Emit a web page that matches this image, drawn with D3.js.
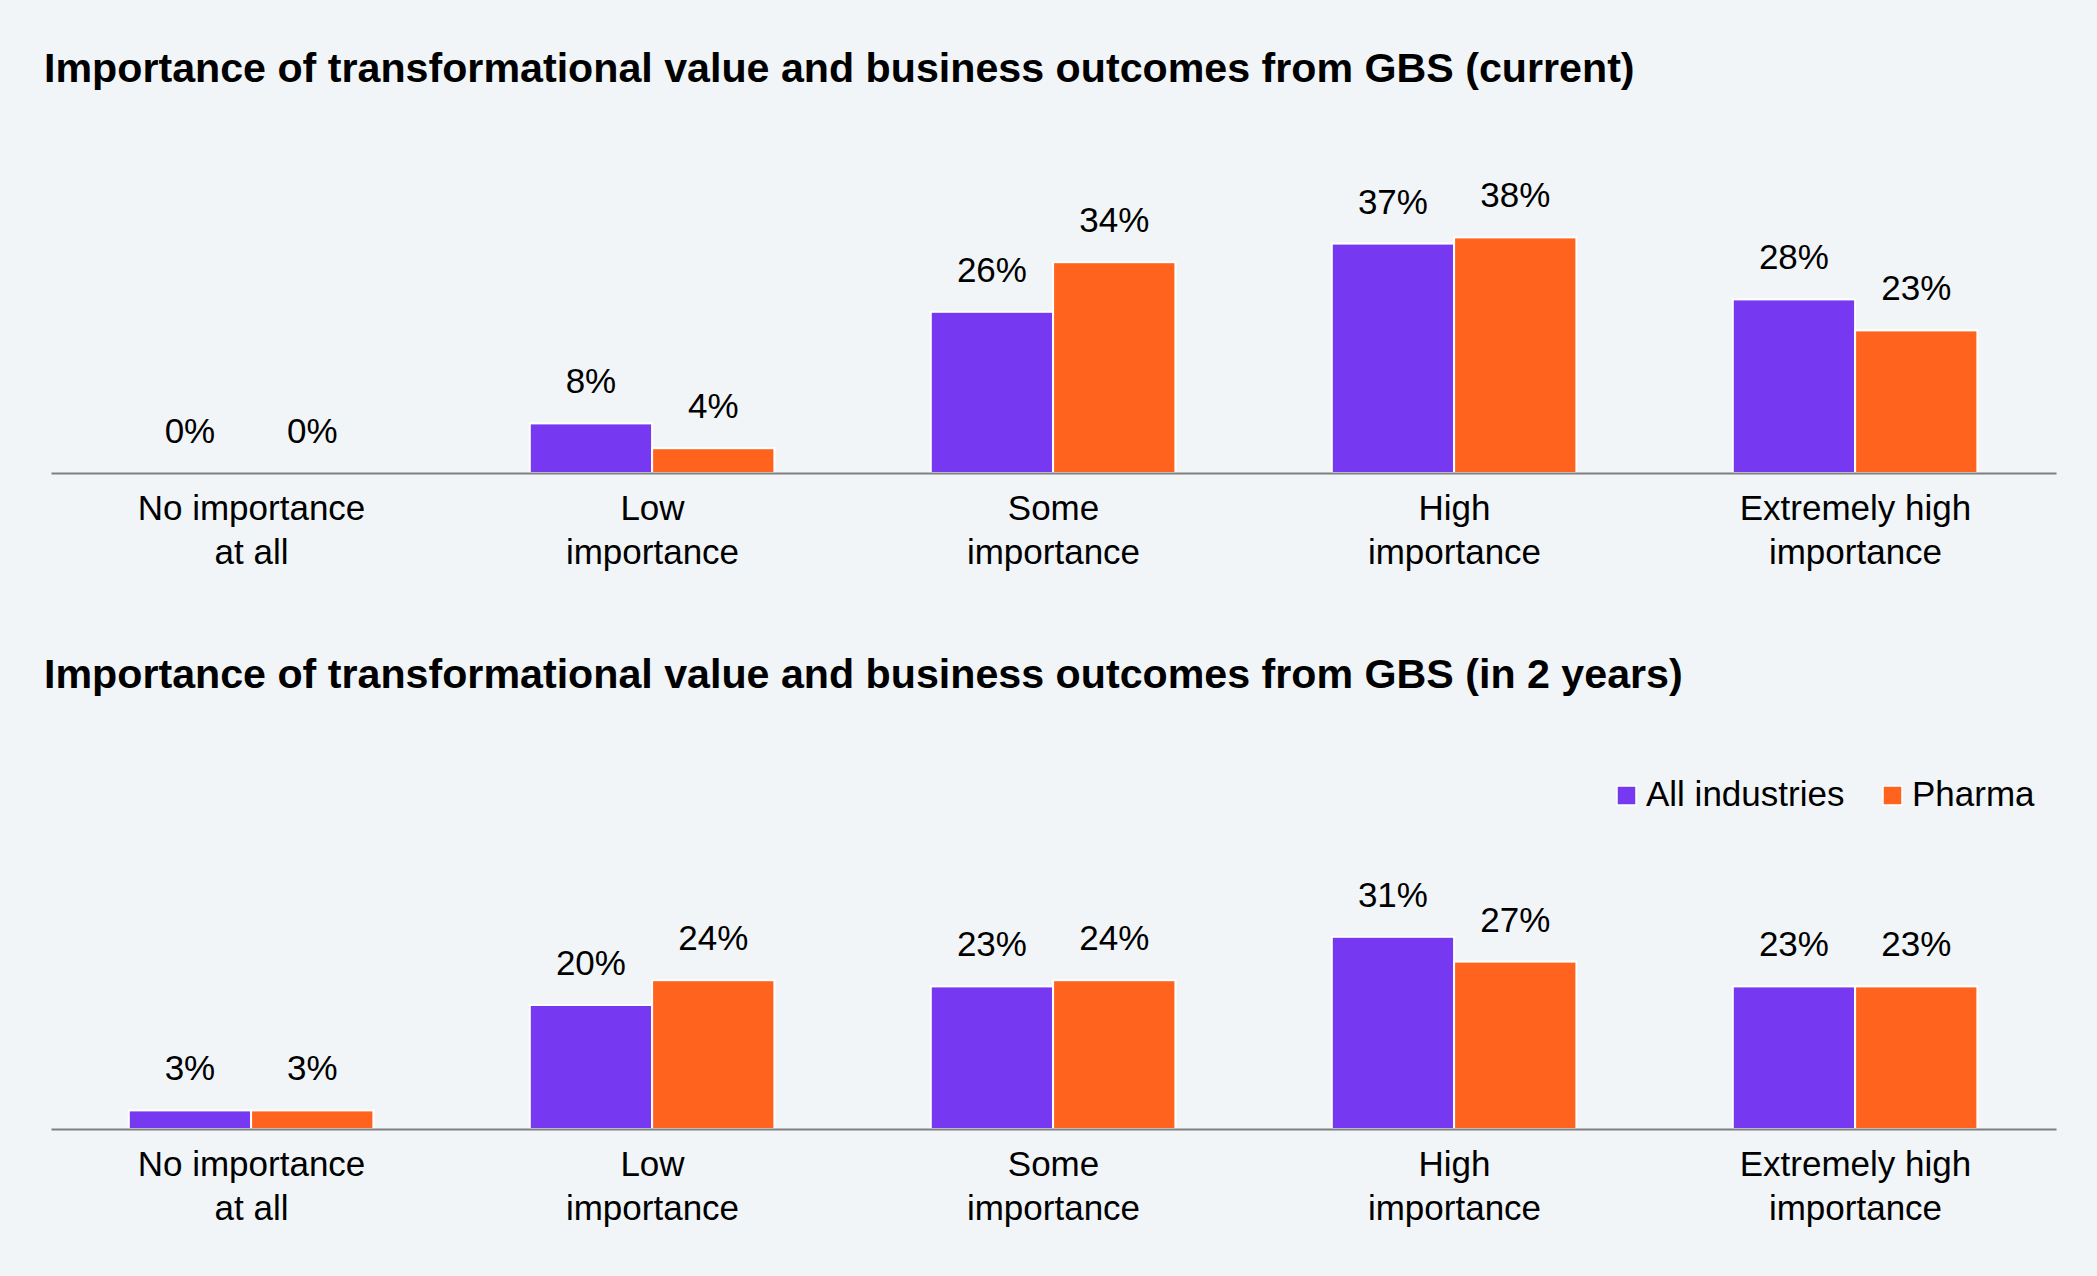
<!DOCTYPE html>
<html>
<head>
<meta charset="utf-8">
<script src="https://cdn.jsdelivr.net/npm/d3@7"></script>
<style>
  html, body { margin: 0; padding: 0; background: #f1f5f8; }
  svg { display: block; font-family: "Liberation Sans", Arial, sans-serif; }
</style>
</head>
<body>
<div id="chart"></div>
<script>
// categories (tick labels, two lines each)
const categories = ["No importance|at all", "Low|importance", "Some|importance", "High|importance", "Extremely high|importance"];
const seriesNames = ["All industries", "Pharma"];
const colors = ["#7638f0", "#ff631e"];

// values in %
const currentAll = [0, 8, 26, 37, 28];
const currentPharma = [0, 4, 34, 38, 23];
const futureAll = [3, 20, 23, 31, 23];
const futurePharma = [3, 24, 24, 27, 23];

const titles = [
    "Importance of transformational value and business outcomes from GBS (current)",
    "Importance of transformational value and business outcomes from GBS (in 2 years)"
];

const width = 2097, height = 1276;

const svg = d3.select("#chart")
    .append("svg")
    .attr("width", width)
    .attr("height", height);

svg.append("rect").attr("width", width).attr("height", height).attr("fill", "#f1f5f8");

const xScale = d3.scaleBand()
    .domain(categories)
    .range([51, 2056])
    .padding(0);

const bw = xScale.bandwidth();
const x1 = d3.scaleBand()
    .domain(seriesNames)
    .range([bw * 0.194, bw * 0.804])
    .padding(0);

function drawPanel(titleY, axisY, all, pharma, title) {
    const yScale = d3.scaleLinear()
        .domain([0, 40])
        .range([axisY, axisY - 248]);

    svg.append("text")
        .attr("x", 44)
        .attr("y", titleY)
        .attr("font-size", 41.2)
        .attr("font-weight", "bold")
        .attr("fill", "#000")
        .text(title);

    const rows = categories.map((c, i) => ({
        cat: c,
        vals: [{ key: seriesNames[0], v: all[i] }, { key: seriesNames[1], v: pharma[i] }]
    }));

    const g = svg.selectAll(null)
        .data(rows)
        .enter()
        .append("g")
        .attr("transform", d => `translate(${xScale(d.cat)},0)`);

    g.selectAll("rect")
        .data(d => d.vals.filter(v => v.v > 0))
        .enter()
        .append("rect")
        .attr("x", d => x1(d.key))
        .attr("y", d => yScale(d.v))
        .attr("width", x1.bandwidth())
        .attr("height", d => axisY - yScale(d.v))
        .attr("fill", d => colors[seriesNames.indexOf(d.key)])
        .attr("stroke", "#fff")
        .attr("stroke-width", 2);

    g.selectAll("text.val")
        .data(d => d.vals)
        .enter()
        .append("text")
        .attr("class", "val")
        .attr("x", d => x1(d.key) + x1.bandwidth() / 2)
        .attr("y", d => yScale(d.v) - 30)
        .attr("text-anchor", "middle")
        .attr("font-size", 35)
        .attr("fill", "#000")
        .text(d => d.v + "%");

    const axis = svg.append("g")
        .attr("transform", `translate(0,${axisY})`)
        .call(d3.axisBottom(xScale).tickSize(0).tickSizeOuter(0).tickFormat(""));

    axis.select(".domain").attr("stroke", "#7f7f7f").attr("stroke-width", 2);

    axis.selectAll(".tick text").remove();
    axis.selectAll(".tick")
        .append("text")
        .attr("text-anchor", "middle")
        .attr("font-size", 35)
        .attr("fill", "#000")
        .selectAll("tspan")
        .data(d => d.split("|"))
        .enter()
        .append("tspan")
        .attr("x", 0)
        .attr("y", (d, i) => 47 + i * 44)
        .text(d => d);
}

drawPanel(82, 473, currentAll, currentPharma, titles[0]);
drawPanel(688, 1129, futureAll, futurePharma, titles[1]);

// legend
const legend = svg.append("g");
const legendItems = [
    { name: seriesNames[0], x: 1617 },
    { name: seriesNames[1], x: 1883 }
];
legendItems.forEach((d, i) => {
    legend.append("rect")
        .attr("x", d.x).attr("y", 786)
        .attr("width", 19).attr("height", 19)
        .attr("fill", colors[i])
        .attr("stroke", "#fff").attr("stroke-width", 1.5);
    legend.append("text")
        .attr("x", d.x + 29).attr("y", 806)
        .attr("font-size", 35)
        .attr("fill", "#000")
        .text(d.name);
});
</script>
</body>
</html>
